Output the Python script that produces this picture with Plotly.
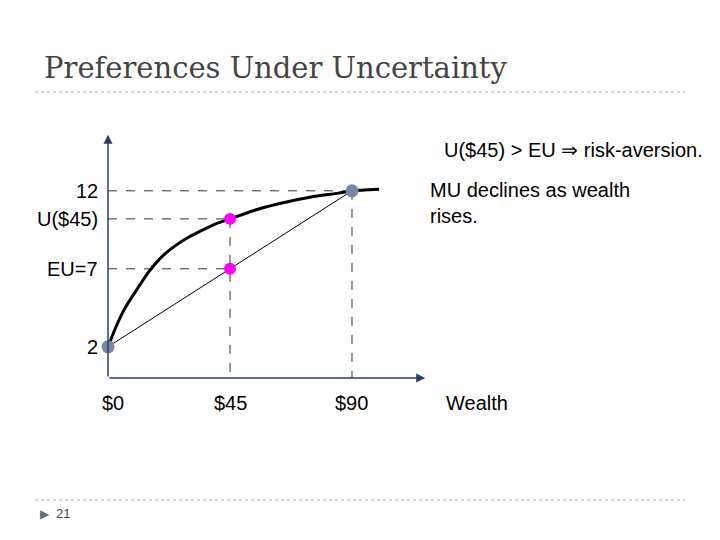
import plotly.graph_objects as go

# utility curve (wealth, utility)
curve_w = [0, 3, 6, 10, 15, 20, 25, 30, 35, 40, 45, 55, 65, 75, 85, 90, 100]
curve_u = [2, 3.3, 4.4, 5.5, 6.8, 7.8, 8.5, 9.05, 9.5, 9.9, 10.2, 10.8, 11.25, 11.6, 11.85, 12.0, 12.1]

u_low, u_high = 2, 12
u45 = 10.2
eu = 7

W, H, OFF = 712, 532, 8  # page adds an 8px margin
def px(x):
    return (x - OFF) / W
def py(y):
    return 1 - (y - OFF) / H

# axes map to pixels: x px = 108 + 2.711*w, y px = 378 - 15.6*u
xr = [-(108 - OFF) / 2.711, (OFF + W - 108) / 2.711]
yr = [-(OFF + H - 378) / 15.6, (378 - OFF) / 15.6]

fig = go.Figure()
dash = dict(color="#333", width=1, dash="dash")
fig.add_trace(go.Scatter(x=[0, 90], y=[u_high, u_high], mode="lines", line=dash))
fig.add_trace(go.Scatter(x=[0, 45], y=[u45, u45], mode="lines", line=dash))
fig.add_trace(go.Scatter(x=[0, 45], y=[eu, eu], mode="lines", line=dash))
fig.add_trace(go.Scatter(x=[45, 45], y=[u45, 0], mode="lines", line=dash))
fig.add_trace(go.Scatter(x=[90, 90], y=[u_high, 0], mode="lines", line=dash))
fig.add_trace(go.Scatter(x=[0, 90], y=[u_low, u_high], mode="lines", line=dict(color="black", width=1)))
fig.add_trace(go.Scatter(x=curve_w, y=curve_u, mode="lines", line=dict(color="black", width=3, shape="spline", smoothing=0.6)))
fig.add_trace(go.Scatter(x=[0, 90], y=[u_low, u_high], mode="markers",
                         marker=dict(color="#7a86a8", size=13)))
fig.add_trace(go.Scatter(x=[45, 45], y=[u45, eu], mode="markers",
                         marker=dict(color="#ff00ff", size=12)))

# axes arrows
for x, y in [(0, 15.6), (117, 0)]:
    fig.add_annotation(x=x, y=y, ax=0, ay=0, xref="x", yref="y", axref="x", ayref="y",
                       showarrow=True, arrowhead=2, arrowsize=1.2, arrowwidth=1.5, text="")

f = dict(family="Arial", size=20, color="black")
for yv, t in [(u_high, "12"), (u45, "U($45)"), (eu, "EU=7"), (u_low, "2")]:
    fig.add_annotation(x=-3, y=yv, text=t, showarrow=False, xanchor="right", yanchor="middle", font=f)
for xv, t in [(2, "$0"), (45, "$45"), (90, "$90"), (136, "Wealth")]:
    fig.add_annotation(x=xv, y=-1.6, text=t, showarrow=False, yanchor="middle", font=f)

fig.add_annotation(x=px(705), y=py(150), xref="paper", yref="paper", xanchor="right", yanchor="middle",
                   text="U($45) > EU \u21d2 risk-aversion.", showarrow=False, font=f)
fig.add_annotation(x=px(428), y=py(203), xref="paper", yref="paper", xanchor="left", yanchor="middle",
                   align="left", text="MU declines as wealth<br>rises.", showarrow=False, font=f)
fig.add_annotation(x=px(42), y=py(68), xref="paper", yref="paper", xanchor="left", yanchor="middle",
                   text="Preferences Under Uncertainty", showarrow=False,
                   font=dict(family="DejaVu Serif", size=29, color="#444"))
fig.add_annotation(x=px(54), y=py(513), xref="paper", yref="paper", xanchor="left", yanchor="middle",
                   text="21", showarrow=False, font=dict(family="Arial", size=13, color="#444"))
fig.add_annotation(x=px(38), y=py(513), xref="paper", yref="paper", yanchor="middle",
                   text="\u25b6", showarrow=False, font=dict(size=12, color="#5a6e8c"))

for yp in [92, 500]:
    fig.add_shape(type="line", xref="paper", yref="paper", x0=px(35), x1=px(685),
                  y0=py(yp), y1=py(yp), line=dict(color="#aaa", width=1, dash="dot"))

fig.update_layout(width=W, height=H, margin=dict(l=0, r=0, t=0, b=0),
                  plot_bgcolor="white", paper_bgcolor="white", showlegend=False,
                  xaxis=dict(range=xr, visible=False), yaxis=dict(range=yr, visible=False))
fig.write_html("out.html")
